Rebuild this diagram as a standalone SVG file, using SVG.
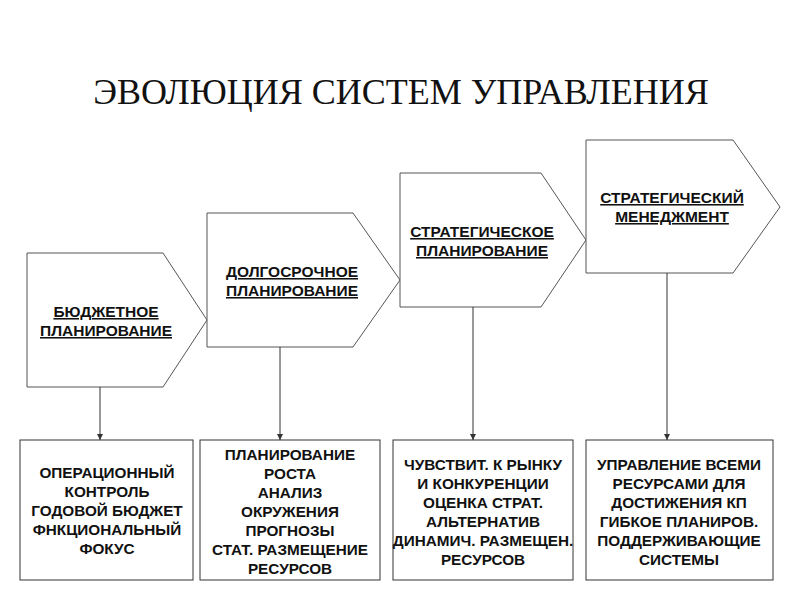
<svg xmlns="http://www.w3.org/2000/svg" width="800" height="600" viewBox="0 0 800 600">
<style>
.sh{fill:#fff;stroke:#555;stroke-width:1}
.bx{fill:#fff;stroke:#333;stroke-width:1}
.h{font-family:"Liberation Sans",Arial,sans-serif;font-weight:bold;font-size:15.5px;text-decoration:underline;text-anchor:middle;fill:#111}
.b{font-family:"Liberation Sans",Arial,sans-serif;font-weight:bold;font-size:15.3px;text-anchor:middle;fill:#111}
.c{stroke:#333;stroke-width:1;fill:none;marker-end:url(#ah)}
</style>
<defs><marker id="ah" viewBox="0 0 10 10" refX="10" refY="5" markerWidth="6" markerHeight="6" markerUnits="userSpaceOnUse" orient="auto"><path d="M0,0L10,5L0,10z" fill="#333"/></marker></defs>
<rect width="800" height="600" fill="#fff"/>
<text x="401" y="104" font-family="Liberation Serif,serif" font-size="36" text-anchor="middle" fill="#111">ЭВОЛЮЦИЯ СИСТЕМ УПРАВЛЕНИЯ</text>
<g id="n1"><polygon class="sh" points="27,253 163,253 207,320 163,387 27,387"/>
<text class="h" x="106" y="317">БЮДЖЕТНОЕ</text><text class="h" x="106" y="336"> ПЛАНИРОВАНИЕ</text></g>
<g id="n2"><polygon class="sh" points="207,213 353,213 400,280 353,347 207,347"/>
<text class="h" x="292" y="277">ДОЛГОСРОЧНОЕ</text><text class="h" x="292" y="296">ПЛАНИРОВАНИЕ</text></g>
<g id="n3"><polygon class="sh" points="400,173 541,173 586,240 541,307 400,307"/>
<text class="h" x="482" y="237">СТРАТЕГИЧЕСКОЕ</text><text class="h" x="482" y="256">ПЛАНИРОВАНИЕ</text></g>
<g id="n4"><polygon class="sh" points="586,140 733,140 780,207 733,273 586,273"/>
<text class="h" x="672" y="203">СТРАТЕГИЧЕСКИЙ</text><text class="h" x="672" y="222">МЕНЕДЖМЕНТ</text></g>
<g id="b1"><rect class="bx" x="20" y="440" width="173" height="140"/>
<text class="b" x="107" y="478">ОПЕРАЦИОННЫЙ</text><text class="b" x="107" y="497">КОНТРОЛЬ</text><text class="b" x="107" y="516">ГОДОВОЙ БЮДЖЕТ</text><text class="b" x="107" y="535">ФНКЦИОНАЛЬНЫЙ</text><text class="b" x="107" y="554">ФОКУС</text></g>
<g id="b2"><rect class="bx" x="200" y="440" width="180" height="140"/>
<text class="b" x="290" y="460">ПЛАНИРОВАНИЕ</text><text class="b" x="290" y="479">РОСТА</text><text class="b" x="290" y="498">АНАЛИЗ</text><text class="b" x="290" y="517">ОКРУЖЕНИЯ</text><text class="b" x="290" y="536">ПРОГНОЗЫ</text><text class="b" x="290" y="555">СТАТ. РАЗМЕЩЕНИЕ</text><text class="b" x="290" y="574">РЕСУРСОВ</text></g>
<g id="b3"><rect class="bx" x="393" y="440" width="180" height="140"/>
<text class="b" x="483" y="470">ЧУВСТВИТ. К РЫНКУ</text><text class="b" x="483" y="489">И КОНКУРЕНЦИИ</text><text class="b" x="483" y="508">ОЦЕНКА СТРАТ.</text><text class="b" x="483" y="527">АЛЬТЕРНАТИВ</text><text class="b" x="483" y="546">ДИНАМИЧ. РАЗМЕЩЕН.</text><text class="b" x="483" y="565">РЕСУРСОВ</text></g>
<g id="b4"><rect class="bx" x="586" y="440" width="187" height="140"/>
<text class="b" x="679" y="470">УПРАВЛЕНИЕ ВСЕМИ</text><text class="b" x="679" y="489">РЕСУРСАМИ ДЛЯ</text><text class="b" x="679" y="508">ДОСТИЖЕНИЯ КП</text><text class="b" x="679" y="527">ГИБКОЕ ПЛАНИРОВ.</text><text class="b" x="679" y="546">ПОДДЕРЖИВАЮЩИЕ</text><text class="b" x="679" y="565">СИСТЕМЫ</text></g>
<g id="connectors">
<line class="c" x1="100" y1="387" x2="100" y2="440"/>
<line class="c" x1="280" y1="347" x2="280" y2="440"/>
<line class="c" x1="473" y1="307" x2="473" y2="440"/>
<line class="c" x1="667" y1="273" x2="667" y2="440"/>
</g>
</svg>
